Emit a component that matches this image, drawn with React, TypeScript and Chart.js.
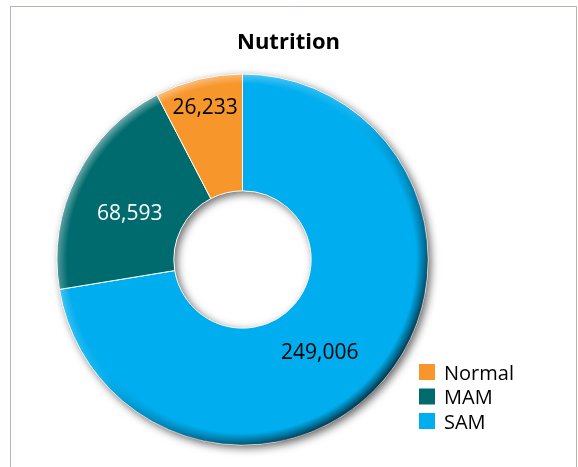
import React, { useEffect, useRef } from "react";
import { Chart, registerables } from "chart.js";

Chart.register(...registerables);

// ---- data ----
const chartTitle = "Nutrition";
const categories = ["SAM", "MAM", "Normal"];
const values = [249006, 68593, 26233];
const sliceColors = ["#00AEEF", "#006B6E", "#F7962B"];
const labelColors = ["#000000", "#FFFFFF", "#000000"];

// ---- label placement (styling) ----
const labelRadiusFrac = [0.44, 0.46, 0.76];
const labelAngleShiftDeg = [9.6, -3.8, 0];

const FONT = '"Open Sans", "Noto Sans", sans-serif';

const decorPlugin = {
  id: "decor",
  beforeDraw(chart: any) {
    const ctx = chart.ctx;
    ctx.save();
    ctx.fillStyle = "#ffffff";
    ctx.fillRect(0, 0, chart.width, chart.height);
    ctx.strokeStyle = "#bcb4ac";
    ctx.lineWidth = 1;
    ctx.beginPath();
    ctx.moveTo(10.5, chart.height + 5);
    ctx.lineTo(10.5, 6.5);
    ctx.lineTo(576.5, 6.5);
    ctx.lineTo(576.5, chart.height + 5);
    ctx.stroke();
    ctx.restore();
  },
  beforeDatasetsDraw(chart: any) {
    const arc = chart.getDatasetMeta(0).data[0];
    if (!arc) return;
    const { x, y, outerRadius, innerRadius } = arc.getProps(
      ["x", "y", "outerRadius", "innerRadius"],
      true
    );
    const ctx = chart.ctx;
    ctx.save();
    ctx.shadowColor = "rgba(0,0,0,0.6)";
    ctx.shadowBlur = 9;
    ctx.shadowOffsetX = 3;
    ctx.shadowOffsetY = 3;
    ctx.beginPath();
    ctx.arc(x, y, outerRadius, 0, Math.PI * 2);
    ctx.arc(x, y, innerRadius, 0, Math.PI * 2, true);
    ctx.fillStyle = "#777";
    ctx.fill();
    ctx.restore();
  },
  afterDatasetsDraw(chart: any) {
    const meta = chart.getDatasetMeta(0);
    const arc0 = meta.data[0];
    if (!arc0) return;
    const { x, y, outerRadius: R } = arc0.getProps(["x", "y", "outerRadius"], true);
    const ctx = chart.ctx;
    const w = chart.width;
    const h = chart.height;

    const makeBand = (color: string, alpha: number, band: number, dark: boolean) => {
      const off = document.createElement("canvas");
      off.width = w;
      off.height = h;
      const o = off.getContext("2d") as CanvasRenderingContext2D;
      const rg = o.createRadialGradient(x, y, R - band, x, y, R);
      rg.addColorStop(0, `rgba(${color},0)`);
      rg.addColorStop(1, `rgba(${color},${alpha})`);
      o.fillStyle = rg;
      o.beginPath();
      o.arc(x, y, R, 0, Math.PI * 2);
      o.fill();
      o.globalCompositeOperation = "destination-in";
      const k = R * 0.7;
      const lg = dark
        ? o.createLinearGradient(x - k, y - k, x + k, y + k)
        : o.createLinearGradient(x + k, y + k, x - k, y - k);
      lg.addColorStop(0, "rgba(0,0,0,0)");
      lg.addColorStop(0.45, "rgba(0,0,0,0)");
      lg.addColorStop(1, "rgba(0,0,0,1)");
      o.fillStyle = lg;
      o.fillRect(0, 0, w, h);
      ctx.drawImage(off, 0, 0);
    };
    makeBand("0,0,0", 0.7, 12, true);
    makeBand("255,255,255", 0.45, 10, false);

    ctx.save();
    ctx.font = `21px ${FONT}`;
    ctx.textAlign = "center";
    ctx.textBaseline = "alphabetic";
    meta.data.forEach((el: any, i: number) => {
      const p = el.getProps(["startAngle", "endAngle", "innerRadius", "outerRadius"], true);
      const mid = (p.startAngle + p.endAngle) / 2 + (labelAngleShiftDeg[i] * Math.PI) / 180;
      const r = p.innerRadius + (p.outerRadius - p.innerRadius) * labelRadiusFrac[i];
      const lx = x + Math.cos(mid) * r;
      const ly = y + Math.sin(mid) * r;
      ctx.fillStyle = labelColors[i];
      ctx.fillText(values[i].toLocaleString("en-US"), lx, ly + 7.5);
    });
    ctx.restore();
  },
  afterDraw(chart: any) {
    const ctx = chart.ctx;
    ctx.save();
    ctx.fillStyle = "#000000";
    ctx.font = `bold 22px ${FONT}`;
    ctx.textAlign = "center";
    ctx.textBaseline = "alphabetic";
    ctx.fillText(chartTitle, 288.5, 48.5);
    ctx.font = `20px ${FONT}`;
    ctx.textAlign = "left";
    const order = categories.map((_, i) => i).reverse();
    order.forEach((idx, row) => {
      const top = 364 + row * 24.5;
      ctx.fillStyle = sliceColors[idx];
      ctx.fillRect(419, top, 16, 16);
      ctx.fillStyle = "#000000";
      ctx.fillText(categories[idx], 444, top + 15.5);
    });
    ctx.restore();
  },
};

export default function App() {
  const ref = useRef<HTMLCanvasElement | null>(null);
  useEffect(() => {
    if (!ref.current) return;
    const chart = new Chart(ref.current, {
      type: "doughnut",
      data: {
        labels: categories,
        datasets: [
          {
            data: values,
            backgroundColor: sliceColors,
            borderColor: "#ffffff",
            borderWidth: 1,
          },
        ],
      },
      options: {
        responsive: false,
        animation: false,
        cutout: "37%",
        layout: { padding: { left: 56.5, right: 149.5, top: 73.5, bottom: 21.5 } },
        plugins: {
          legend: { display: false },
          title: { display: false },
          tooltip: { enabled: false },
        },
      },
      plugins: [decorPlugin],
    });
    return () => chart.destroy();
  }, []);
  return (
    <div style={{ position: "absolute", left: 0, top: 0, width: 578, height: 467 }}>
      <canvas ref={ref} width={578} height={467} style={{ display: "block" }} />
    </div>
  );
}
